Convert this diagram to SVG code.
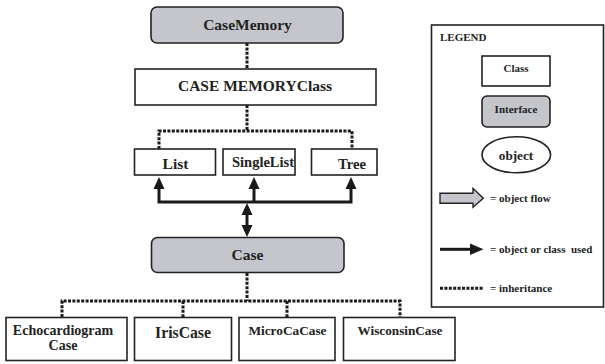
<svg xmlns="http://www.w3.org/2000/svg" width="605" height="364" viewBox="0 0 605 364">
  <defs>
    <style>
      .cls { fill: #ffffff; stroke: #222222; stroke-width: 1.6; }
      .ifc { fill: #c4c6cc; stroke: #222222; stroke-width: 1.6; }
      .lbl { font-family: "Liberation Serif", "Times New Roman", serif; font-weight: bold; fill: #222222; text-anchor: middle; }
      .key { font-family: "Liberation Serif", "Times New Roman", serif; font-weight: bold; fill: #222222; font-size: 11px; }
      .inh { fill: none; stroke: #1a1a1a; stroke-width: 3; stroke-dasharray: 3 1.4; }
      .use { fill: none; stroke: #1a1a1a; stroke-width: 3; }
      .head { fill: #1a1a1a; }
    </style>
  </defs>

  <!-- connectors -->
  <g id="connectors">
    <!-- inheritance (dotted) -->
    <path class="inh" d="M247 43 V69"/>
    <path class="inh" d="M247 105 V131 M159 149 V131 H352 V149 M254 131 V131"/>
    <path class="inh" d="M247 273 V301 M62 317 V301 H400 V317 M183 301 V317 M287 301 V317"/>
    <!-- usage (solid) -->
    <path class="use" d="M159 188 V202 H351 V188 M254 202 V188"/>
    <polygon class="head" points="159,177 153.5,189 164.5,189"/>
    <polygon class="head" points="254,177 248.5,189 259.5,189"/>
    <polygon class="head" points="351,177 345.5,189 356.5,189"/>
    <path class="use" d="M247 214 V226"/>
    <polygon class="head" points="247,203 241.5,215 252.5,215"/>
    <polygon class="head" points="247,237 241.5,225 252.5,225"/>
  </g>

  <g id="caseMemory">
    <rect class="ifc" x="151" y="7" width="192" height="36" rx="6"/>
    <text class="lbl" x="247.5" y="30" font-size="15.5">CaseMemory</text>
  </g>
  <g id="caseMemoryClass">
    <rect class="cls" x="135" y="69" width="241" height="36"/>
    <text class="lbl" x="255" y="91" font-size="15.5">CASE MEMORYClass</text>
  </g>
  <g id="list">
    <rect class="cls" x="134.5" y="149" width="81" height="26"/>
    <text class="lbl" x="175.5" y="169" font-size="15.5">List</text>
  </g>
  <g id="singleList">
    <rect class="cls" x="223" y="149" width="72" height="26"/>
    <text class="lbl" x="263" y="166.5" font-size="14.5">SingleList</text>
  </g>
  <g id="tree">
    <rect class="cls" x="311.5" y="149" width="65.5" height="26"/>
    <text class="lbl" x="352" y="169" font-size="14.7">Tree</text>
  </g>
  <g id="case">
    <rect class="ifc" x="151.5" y="237.5" width="192.5" height="35" rx="6"/>
    <text class="lbl" x="247.5" y="260" font-size="15.5">Case</text>
  </g>
  <g id="echocardiogramCase">
    <rect class="cls" x="6" y="317.5" width="121" height="43"/>
    <text class="lbl" x="63" y="335" font-size="14">Echocardiogram</text>
    <text class="lbl" x="63" y="349.5" font-size="14">Case</text>
  </g>
  <g id="irisCase">
    <rect class="cls" x="134.5" y="317.5" width="97" height="43"/>
    <text class="lbl" x="183" y="337.5" font-size="15.7">IrisCase</text>
  </g>
  <g id="microCaCase">
    <rect class="cls" x="239" y="317.5" width="96" height="43"/>
    <text class="lbl" x="287.5" y="335" font-size="13.3">MicroCaCase</text>
  </g>
  <g id="wisconsinCase">
    <rect class="cls" x="343.5" y="317.5" width="111.5" height="43"/>
    <text class="lbl" x="400" y="335" font-size="13.2">WisconsinCase</text>
  </g>

  <!-- legend panel -->
  <g id="legend">
    <rect x="431.5" y="25" width="172" height="282" fill="#ffffff" stroke="#222222" stroke-width="1.6"/>
    <text class="key" x="440" y="41" font-size="10.8">LEGEND</text>
    <rect class="cls" x="482" y="56" width="68" height="30"/>
    <text class="lbl" x="516" y="72" font-size="11">Class</text>
    <rect class="ifc" x="482" y="96" width="68" height="31" rx="5"/>
    <text class="lbl" x="516" y="113" font-size="11">Interface</text>
    <ellipse cx="516.3" cy="154.7" rx="34.3" ry="18" fill="#ffffff" stroke="#222222" stroke-width="1.6"/>
    <text class="lbl" x="516" y="159.5" font-size="13.2">object</text>

    <polygon points="440,193.3 473,193.3 473,188.3 483.3,198.3 473,207.3 473,203.3 440,203.3" fill="#c4c6cc" stroke="#222222" stroke-width="1.4"/>
    <text class="key" x="490" y="202">= object flow</text>

    <path class="use" d="M440 249.3 H472"/>
    <polygon class="head" points="483.5,249.3 470,243.5 470,255"/>
    <text class="key" x="490" y="253" xml:space="preserve">= object or class  used</text>

    <path class="inh" d="M440 288.3 H483" stroke-width="2.6"/>
    <text class="key" x="490" y="292">= inheritance</text>
  </g>
</svg>
